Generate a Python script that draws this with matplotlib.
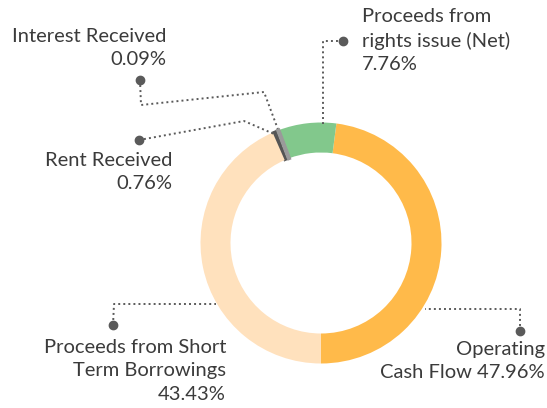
import numpy as np
import matplotlib
matplotlib.use("Agg")
import matplotlib.pyplot as plt

# slices, counter-clockwise starting at 6 o'clock
labels = ["Operating\nCash Flow 47.96%",
          "Proceeds from\nrights issue (Net)\n7.76%",
          "Interest Received\n0.09%",
          "Rent Received\n0.76%",
          "Proceeds from Short\nTerm Borrowings\n43.43%"]
values = [47.96, 7.76, 0.09, 0.76, 43.43]
colors = ["#FFBA4A", "#82C88C", "#9A9A9A", "#555555", "#FFE1BD"]

W, H = 547, 408
CX, CY = 321, H - 243
R_OUT, R_IN = 120.5, 90.5
TXT = "#3b3b3b"
LINE = "#5a5a5a"
FS = 14.5

plt.rcParams["font.family"] = ["Lato", "DejaVu Sans"]

fig = plt.figure(figsize=(W / 100, H / 100), dpi=100)
ax = fig.add_axes([0, 0, 1, 1])

wedges, _ = ax.pie(values, colors=colors, startangle=-90, counterclock=True,
                   radius=R_OUT, center=(CX, CY),
                   wedgeprops=dict(width=R_OUT - R_IN, linewidth=0))
# the tiny slices get an outline of their own colour so they stay visible
wedges[2].set_edgecolor(colors[2])
wedges[2].set_linewidth(2.6)
wedges[3].set_edgecolor(colors[3])
wedges[3].set_linewidth(1.6)
wedges[2].set_zorder(3)

ax.set_xlim(0, W)
ax.set_ylim(0, H)
ax.set_aspect("equal")
ax.axis("off")


def mid_angle(w):
    return np.deg2rad((w.theta1 + w.theta2) / 2)


def ring_point(theta, r):
    return CX + r * np.cos(theta), CY + r * np.sin(theta)


# leader layout: dot position, elbow points (image coords, y down), anchor on ring
leaders = [
    ((520, 331), [(520, 309)], (425, H - 309)),
    ((343, 41), [(323, 41)], (323, H - 124)),
    ((140, 80), [(141, 105), (264, 92)], ring_point(mid_angle(wedges[2]), R_OUT - 4)),
    ((139, 140), [(244, 121)], ring_point(mid_angle(wedges[3]), R_OUT - 4)),
    ((113, 325), [(114, 304)], (216, H - 304)),
]

for dot, elbows, anchor in leaders:
    xs = [dot[0]] + [e[0] for e in elbows] + [anchor[0]]
    ys = [H - dot[1]] + [H - e[1] for e in elbows] + [anchor[1]]
    ax.plot(xs, ys, color=LINE, lw=1.4, linestyle=(0, (1, 1.6)), zorder=1)
    ax.plot(dot[0], H - dot[1], "o", color=LINE, ms=6, zorder=4)

ax.text(545, H - 341, labels[0], ha="right", va="top", fontsize=FS,
        color=TXT, linespacing=1.45)
ax.text(362, H - 8, labels[1], ha="left", va="top", fontsize=FS,
        color=TXT, linespacing=1.45)
ax.text(166, H - 28, labels[2], ha="right", va="top", fontsize=FS,
        color=TXT, linespacing=1.45)
ax.text(172, H - 152, labels[3], ha="right", va="top", fontsize=FS,
        color=TXT, linespacing=1.45)
ax.text(226, H - 339, labels[4], ha="right", va="top", fontsize=FS,
        color=TXT, linespacing=1.45)

fig.savefig("out.png", dpi=100, facecolor="white")
